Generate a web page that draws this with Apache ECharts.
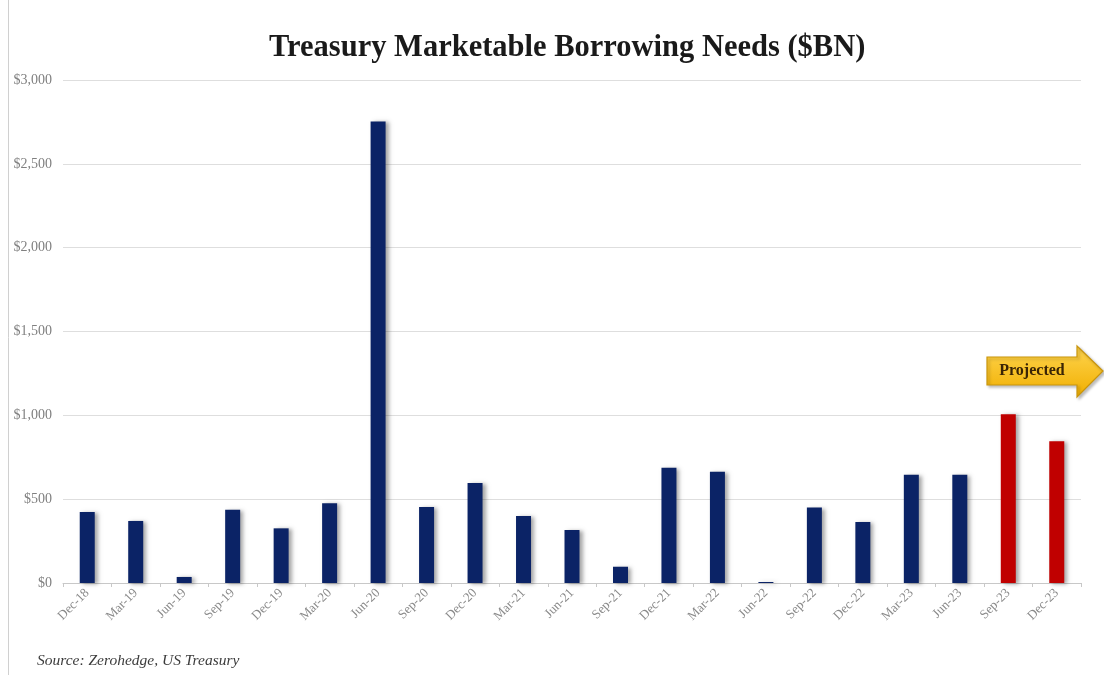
<!DOCTYPE html>
<html>
<head>
<meta charset="utf-8">
<title>Treasury Marketable Borrowing Needs</title>
<script src="https://cdn.jsdelivr.net/npm/echarts@6/dist/echarts.min.js"></script>
<style>
  html, body { margin: 0; padding: 0; background: #ffffff; }
  #chart { width: 1104px; height: 675px; }
</style>
</head>
<body>
<div id="chart"></div>
<script>
// Quarterly marketable borrowing, $BN
const quarters = ['Dec-18', 'Mar-19', 'Jun-19', 'Sep-19', 'Dec-19', 'Mar-20', 'Jun-20',
  'Sep-20', 'Dec-20', 'Mar-21', 'Jun-21', 'Sep-21', 'Dec-21', 'Mar-22', 'Jun-22',
  'Sep-22', 'Dec-22', 'Mar-23', 'Jun-23', 'Sep-23', 'Dec-23'];
const borrowing = [424, 370, 36, 437, 326, 475, 2753,
  453, 597, 400, 316, 97, 688, 664, 6,
  450, 364, 645, 645, 1007, 845];
// the last quarters are Treasury estimates
const projectedQuarters = ['Sep-23', 'Dec-23'];
const yTicks = { min: 0, max: 3000, step: 500 };

const ACTUAL = '#0b2366';
const PROJECTED = '#c00000';
const SERIF = '"Liberation Serif", "DejaVu Serif", serif';

const chart = echarts.init(document.getElementById('chart'), null, { renderer: 'canvas' });

chart.setOption({
  backgroundColor: '#ffffff',
  animation: false,
  title: {
    text: 'Treasury Marketable Borrowing Needs ($BN)',
    left: 264,
    top: 28,
    textStyle: { fontFamily: SERIF, fontWeight: 'bold', fontSize: 30.5, color: '#1a1a1a' }
  },
  grid: { left: 63, right: 23, top: 80, bottom: 92, containLabel: false },
  xAxis: {
    type: 'category',
    data: quarters,
    axisLine: { lineStyle: { color: '#c8c8c8', width: 1 } },
    axisTick: { show: true, length: 4, lineStyle: { color: '#c8c8c8' } },
    axisLabel: {
      rotate: 45, margin: 8, interval: 0,
      fontFamily: SERIF, fontSize: 13, color: '#8a8a8a'
    }
  },
  yAxis: {
    type: 'value',
    min: yTicks.min, max: yTicks.max, interval: yTicks.step,
    axisLine: { show: false },
    axisTick: { show: false },
    splitLine: { lineStyle: { color: '#dedede', width: 1 } },
    axisLabel: {
      margin: 11,
      fontFamily: SERIF, fontSize: 14, color: '#808080',
      formatter: v => '$' + v.toLocaleString('en-US')
    }
  },
  series: [{
    type: 'bar',
    barWidth: 15,
    data: borrowing.map((v, i) => ({
      value: v,
      itemStyle: { color: projectedQuarters.includes(quarters[i]) ? PROJECTED : ACTUAL }
    })),
    itemStyle: {
      shadowColor: 'rgba(0, 0, 0, 0.35)',
      shadowBlur: 4,
      shadowOffsetX: 3,
      shadowOffsetY: 1
    }
  }],
  graphic: [
    // frame edge on the left
    { type: 'line', shape: { x1: 8.5, y1: 0, x2: 8.5, y2: 675 },
      style: { stroke: '#d0d0d0', lineWidth: 1 }, silent: true },
    // "Projected" block arrow
    { type: 'polygon',
      shape: { points: [[987, 357], [1077, 357], [1077, 346], [1103, 371], [1077, 397], [1077, 385], [987, 385]] },
      style: {
        fill: new echarts.graphic.LinearGradient(0, 0, 0, 1, [
          { offset: 0, color: '#ffd54f' }, { offset: 1, color: '#f0ae00' }
        ]),
        stroke: '#c9950c', lineWidth: 1.2,
        shadowColor: 'rgba(0,0,0,0.25)', shadowBlur: 3, shadowOffsetX: 2, shadowOffsetY: 2
      },
      silent: true },
    { type: 'text', x: 1032, y: 371,
      style: {
        text: 'Projected', fontFamily: SERIF, fontWeight: 'bold', fontSize: 16,
        fill: '#3a2405', align: 'center', verticalAlign: 'middle'
      },
      silent: true },
    // source note
    { type: 'text', left: 37, top: 653,
      style: {
        text: 'Source: Zerohedge, US Treasury', fontFamily: SERIF, fontStyle: 'italic',
        fontSize: 15.5, fill: '#3c3c3c'
      },
      silent: true }
  ]
});
</script>
</body>
</html>
